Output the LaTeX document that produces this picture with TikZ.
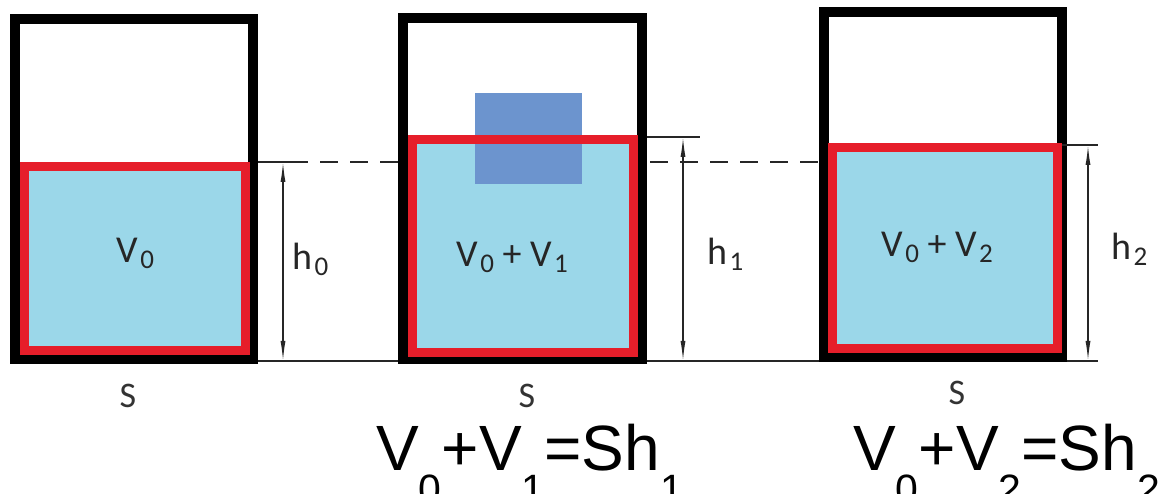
\documentclass[tikz,border=0pt]{standalone}
\usepackage{fontspec}
\setmainfont{Carlito}
\newfontfamily\arialf{Liberation Sans}
\usetikzlibrary{arrows.meta}
\definecolor{water}{HTML}{9BD7E9}
\definecolor{redline}{HTML}{E61E2A}
\definecolor{blockblue}{HTML}{6C94CE}
\newcommand\fsub[1]{\raisebox{-33pt}{\fontsize{41}{41}\selectfont #1}}
\newcommand\lsub[1]{\kern2.5pt\raisebox{-6pt}{\fontsize{27}{27}\selectfont #1}}
\tikzset{
 frame/.style={line width=10pt, draw=black, line join=miter},
 liquid/.style={line width=9pt, draw=redline, fill=water},
 dimline/.style={line width=1.1pt, draw=black!85},
 dimarrow/.style={dimline, line width=1.3pt, {Latex[length=20pt,width=5pt]}-{Latex[length=20pt,width=5pt]}},
 lbl/.style={inner sep=0pt, anchor=base west, font=\fontsize{38}{38}\selectfont, text=black!85},
 slbl/.style={inner sep=0pt, anchor=base, font=\fontsize{36}{36}\selectfont, text=black!80},
 formula/.style={inner sep=0pt, anchor=base west, font=\arialf\fontsize{64}{64}\selectfont}
}
\begin{document}
\begin{tikzpicture}[x=1pt,y=-1pt]
\useasboundingbox (0,0) rectangle (1165,494);
\fill[white] (0,0) rectangle (1165,494);
% reference lines
\coordinate (base0) at (258,361);
\coordinate (base1) at (1098,361);
\draw[dimline] (base0) -- (base1);
\coordinate (lvl0) at (290,162);
\coordinate (lvl1) at (822,162);
\draw[dimline, dash pattern=on 18pt off 12pt] (lvl0) -- (lvl1);

% container 1
\draw[frame] (15,19) rectangle (253,359);
\draw[liquid] (24.5,166.5) rectangle (245.5,350.5);

% container 2
\draw[frame] (403,18) rectangle (642,359);
\fill[water] (412.5,139.5) rectangle (633.5,352.5);
\fill[blockblue] (475,93) rectangle (582,184);
\draw[line width=9pt, draw=redline] (412.5,139.5) rectangle (633.5,352.5);

% container 3
\draw[frame] (824,12) rectangle (1062,357);
\draw[liquid] (832.5,147.5) rectangle (1057.5,348.5);

% dimensions
\coordinate (t1a) at (258,162); \coordinate (t1b) at (292,162);
\coordinate (d1t) at (283,162); \coordinate (d1b) at (283,361);
\draw[dimline] (t1a) -- (t1b);
\draw[dimarrow] (d1t) -- (d1b);

\coordinate (t2a) at (647,137); \coordinate (t2b) at (700,137);
\coordinate (d2t) at (683,137); \coordinate (d2b) at (683,361);
\draw[dimline] (t2a) -- (t2b);
\draw[dimarrow] (d2t) -- (d2b);

\coordinate (t3a) at (1062,145); \coordinate (t3b) at (1098,145);
\coordinate (d3t) at (1088,145); \coordinate (d3b) at (1088,361);
\draw[dimline] (t3a) -- (t3b);
\draw[dimarrow] (d3t) -- (d3b);

% labels
\node[lbl] (v0) at (116,263) {V\lsub{0}};
\node[lbl] (h0) at (292,270) {h\lsub{0}};
\node[lbl] (v01) at (456,267) {V\lsub{0} + V\lsub{1}};
\node[lbl] (h1) at (707,265) {h\lsub{1}};
\node[lbl] (v02) at (881,257) {V\lsub{0} + V\lsub{2}};
\node[lbl] (h2) at (1111,260) {h\lsub{2}};
\node[slbl] (s1) at (128,407) {S};
\node[slbl] (s2) at (527,407) {S};
\node[slbl] (s3) at (957,404) {S};

% formulas
\node[formula] (f1) at (376,470) {V\fsub{0}+V\fsub{1}=Sh\fsub{1}};
\node[formula] (f2) at (853,470) {V\fsub{0}+V\fsub{2}=Sh\fsub{2}};
\end{tikzpicture}
\end{document}
